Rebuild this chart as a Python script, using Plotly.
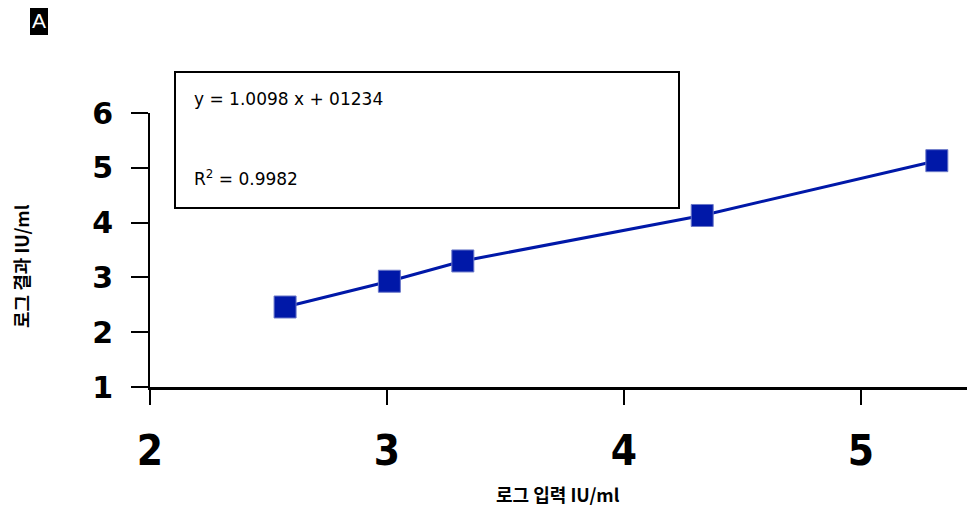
import plotly.graph_objects as go

# Data
x_log_input = [2.57, 3.01, 3.32, 4.33, 5.32]
y_log_result = [2.46, 2.93, 3.30, 4.13, 5.13]
x_ticks = [2, 3, 4, 5]
y_ticks = [1, 2, 3, 4, 5, 6]
equation_text = "y = 1.0098 x + 01234"
r2_text = "R<sup>2</sup> = 0.9982"
x_title = "로그 입력 IU/ml"
y_title = "로그 결과 IU/ml"
panel_label = "A"

# the page body has an 8px margin; work in reference-pixel coordinates
OFF = 8
W, H = 975 - OFF, 511 - OFF
L_ref, T_ref, X_END, Y_BOT = 150, 113, 973, 387
L, T = L_ref - OFF, T_ref - OFF
R = 975 - X_END
B = 511 - Y_BOT
pw, ph = X_END - L_ref, Y_BOT - T_ref

def px(xp):
    return (xp - L_ref) / pw

def py(yp):
    return (Y_BOT - yp) / ph

blue = "#0018A8"

fig = go.Figure()
fig.add_trace(go.Scatter(
    x=x_log_input, y=y_log_result, mode="lines+markers",
    line=dict(color=blue, width=3),
    marker=dict(symbol="square", size=22, color=blue,
                line=dict(color="#6a78c8", width=1)),
    showlegend=False, cliponaxis=False,
))

fig.update_layout(
    width=W, height=H,
    margin=dict(l=L, r=R, t=T, b=B, autoexpand=False),
    paper_bgcolor="white", plot_bgcolor="white",
    xaxis=dict(
        range=[2, 2 + pw / 237.0], tickvals=x_ticks,
        ticktext=[str(v) for v in x_ticks],
        showgrid=False, zeroline=False, showline=True,
        linecolor="black", linewidth=3,
        ticks="outside", ticklen=15, tickwidth=2, tickcolor="black",
        tickfont=dict(family="DejaVu Sans Condensed, Liberation Sans", size=42,
                      color="black", weight="bold"),
        ticklabelstandoff=10,
    ),
    yaxis=dict(
        range=[1, 6], tickvals=y_ticks,
        ticktext=[str(v) for v in y_ticks],
        showgrid=False, zeroline=False, showline=True,
        linecolor="black", linewidth=2,
        ticks="outside", ticklen=17, tickwidth=2, tickcolor="black",
        tickfont=dict(family="DejaVu Sans", size=30, color="black", weight="bold"),
        ticklabelstandoff=12,
    ),
    font=dict(family="DejaVu Sans", color="black"),
)

# Equation box
fig.add_shape(type="rect", xref="paper", yref="paper",
              x0=px(175), x1=px(679), y0=py(208), y1=py(72),
              line=dict(color="black", width=2), fillcolor="white", layer="above")
fig.add_annotation(xref="paper", yref="paper", x=px(192), y=py(99),
                   xanchor="left", yanchor="middle", showarrow=False,
                   text=equation_text,
                   font=dict(family="DejaVu Sans", size=17, color="black"))
fig.add_annotation(xref="paper", yref="paper", x=px(192), y=py(178),
                   xanchor="left", yanchor="middle", showarrow=False,
                   text=r2_text,
                   font=dict(family="DejaVu Sans", size=17, color="black"))

# Axis titles
fig.add_annotation(xref="paper", yref="paper", x=px(558), y=py(494),
                   xanchor="center", yanchor="middle", showarrow=False,
                   text="<b>" + x_title + "</b>",
                   font=dict(family="Noto Sans CJK KR", size=18, color="black"))
fig.add_annotation(xref="paper", yref="paper", x=px(21), y=py(266),
                   xanchor="center", yanchor="middle", showarrow=False,
                   textangle=-90, borderpad=0,
                   text="<b>" + y_title + "</b>",
                   font=dict(family="Noto Sans CJK KR", size=18, color="black"))

# Panel label
fig.add_shape(type="rect", xref="paper", yref="paper",
              x0=px(30), x1=px(48), y0=py(35), y1=py(5),
              line=dict(width=0), fillcolor="black")
fig.add_annotation(xref="paper", yref="paper", x=px(39), y=py(20),
                   xanchor="center", yanchor="middle", showarrow=False,
                   text=panel_label,
                   font=dict(family="Liberation Sans", size=21, color="white"))

fig.write_html("out.html")
